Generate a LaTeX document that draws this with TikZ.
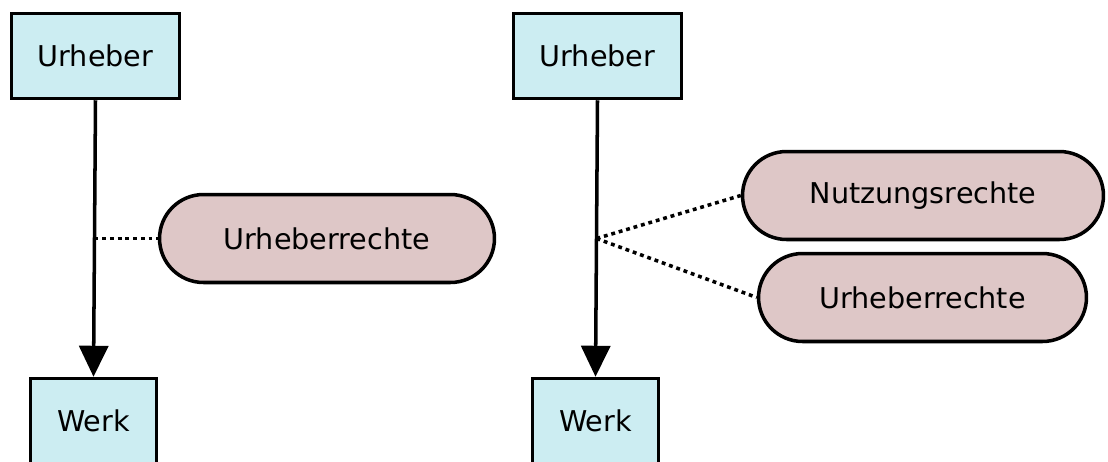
\documentclass[tikz,border=0pt]{standalone}
\usepackage{fontspec}
\setmainfont{DejaVu Sans}
\usetikzlibrary{arrows.meta,calc,shapes.misc}
\definecolor{BoxClr}{rgb}{0.8,0.93,0.95}
\definecolor{RightClr}{rgb}{0.87,0.78,0.78}

\begin{document}
\begin{tikzpicture}[x=0.02cm,y=-0.02cm,
  box/.style={draw,line width=2pt,fill=BoxClr,minimum height=1.7cm,inner sep=0pt,
    font=\fontsize{16.3}{19}\selectfont},
  pill/.style={draw,line width=2pt,fill=RightClr,rounded rectangle,minimum height=1.76cm,
    inner sep=0pt,font=\fontsize{16.3}{19}\selectfont},
  flow/.style={line width=2pt,-{Triangle[length=0.62cm,width=0.58cm]}},
  link/.style={line width=2pt,dash pattern=on 2.2pt off 2.2pt}]
\useasboundingbox (0,0) rectangle (1108,461);

\node[box,minimum width=3.36cm] (u1) at (95.5,56) {Urheber};
\node[box,minimum width=2.52cm] (w1) at (93.5,421) {Werk};
\node[pill,minimum width=6.7cm] (r1) at (327,238.5) {Urheberrechte};

\node[box,minimum width=3.36cm] (u2) at (597.5,56) {Urheber};
\node[box,minimum width=2.52cm] (w2) at (595.5,421) {Werk};
\node[pill,minimum width=7.22cm] (n2) at (923,195.5) {Nutzungsrechte};
\node[pill,minimum width=6.56cm] (r2) at (922.5,297.5) {Urheberrechte};

\draw[flow] (u1.south) -- (w1.north);
\draw[flow] (u2.south) -- (w2.north);

\coordinate (m1) at ($(u1.south)!.5!(w1.north)$);
\coordinate (m2) at ($(u2.south)!.5!(w2.north)$);

\draw[link] (m1) -- (r1.west);
\draw[link] (m2) -- (n2.west);
\draw[link] (m2) -- (r2.west);

\end{tikzpicture}
\end{document}
